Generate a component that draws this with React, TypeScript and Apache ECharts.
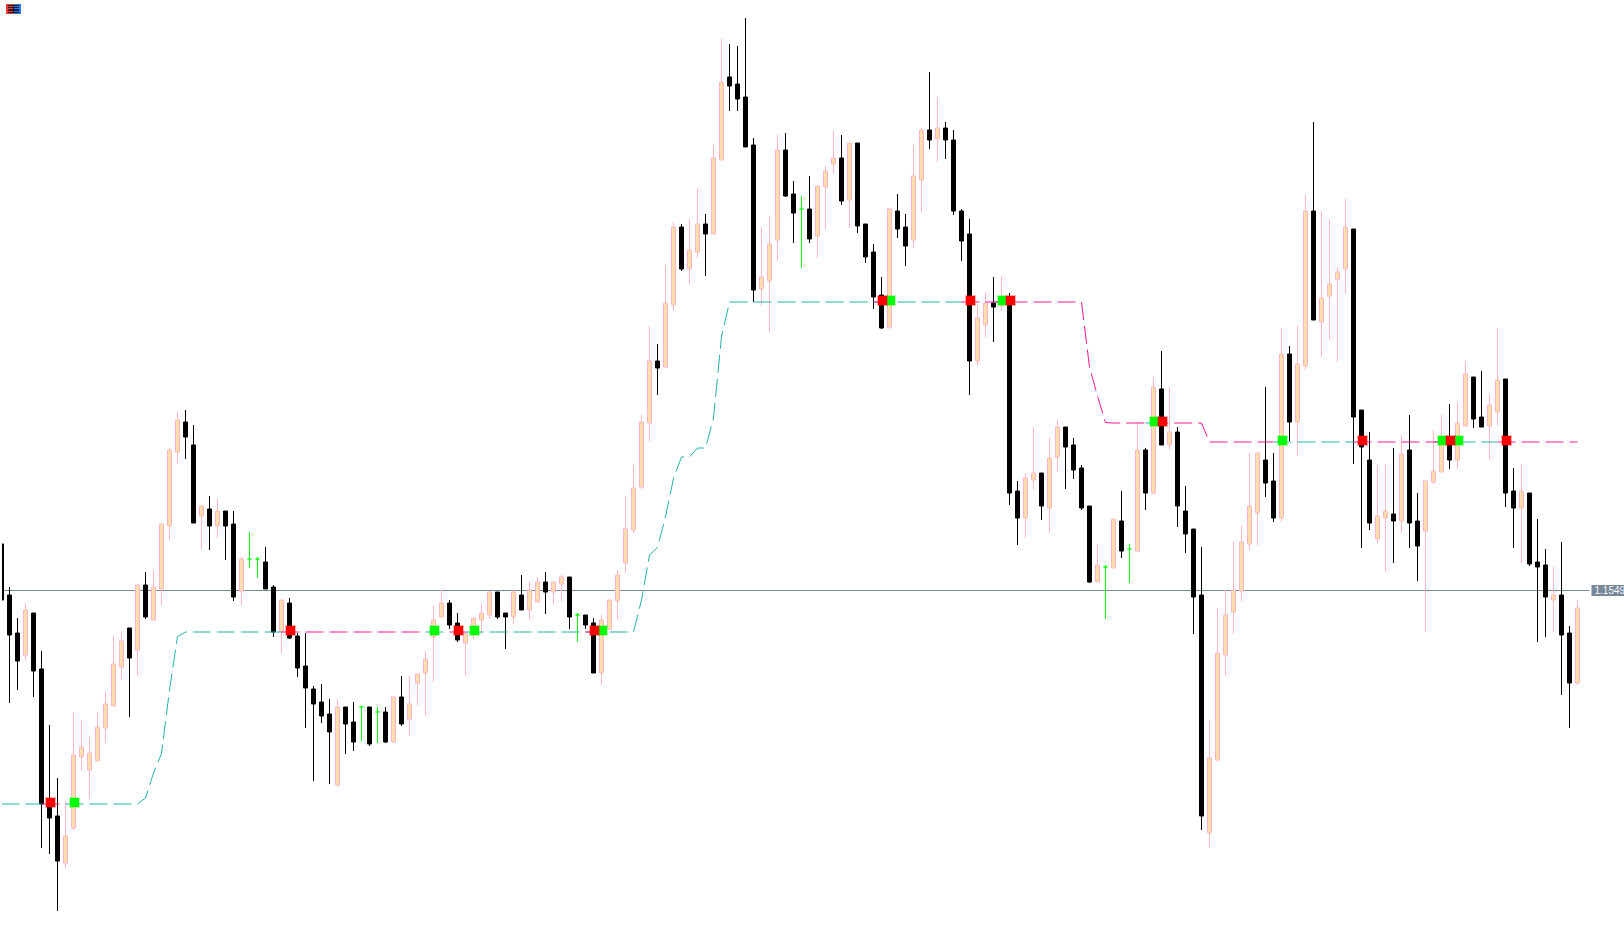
import React, { useEffect, useRef } from "react";
import * as echarts from "echarts";

const POINT = 0.00001;
const LAST_PRICE = 1.1549;
const LAST_LABEL = "1.1549";
const PRICE_MIN = 1.14777;
const PRICE_MAX = 1.16671;

// Prices in points (price x 100000), bar by bar.
const opens = [
115583,115481,115405,115361,115445,115333,115071,115039,114945,115015,
115157,115131,115149,115215,115259,115337,115415,115371,115501,115431,
115493,115619,115767,115827,115781,115639,115653,115619,115649,115623,
115489,115553,115553,115547,115497,115407,115465,115399,115339,115293,
115267,115243,115101,115257,115227,115257,115257,115247,115247,115187,
115277,115233,115305,115325,115397,115437,115465,115425,115385,115401,
115431,115441,115487,115445,115437,115481,115451,115467,115507,115487,
115503,115517,115441,115441,115425,115325,115413,115469,115545,115611,
115697,115825,115949,115937,116061,116217,116133,116167,116223,116203,
116351,116517,116503,116477,116381,116093,116109,116191,116371,116283,
116253,116253,116199,116297,116343,116355,116271,116385,116223,116167,
116081,116017,116249,116217,116191,116311,116411,116393,116415,116391,
116249,116203,115949,116021,116065,116059,116065,115689,115635,115711,
115725,115655,115757,115817,115781,115735,115659,115507,115537,115535,
115629,115573,115569,115771,115685,115893,115781,115807,115649,115613,
115481,115005,115151,115361,115447,115489,115583,115645,115751,115709,
115635,115963,115827,115939,116249,116027,116079,116113,116133,116213,
115851,115751,115593,115635,115643,115629,115771,115629,115609,115707,
115727,115791,115751,115819,115917,115837,115819,115847,115913,115689,
115655,115685,115547,115541,115471,115481,115405,115305,
];
const closes = [
115471,115401,115349,115451,115329,115063,115035,114949,114999,115161,
115177,115165,115217,115263,115343,115389,115355,115501,115437,115497,
115623,115771,115831,115797,115625,115659,115619,115649,115619,115477,
115553,115553,115553,115493,115407,115471,115395,115335,115295,115263,
115239,115207,115257,115223,115187,115257,115183,115247,115187,115277,
115223,115263,115323,115353,115431,115465,115421,115391,115405,115435,
115445,115487,115437,115437,115487,115451,115491,115507,115487,115507,
115517,115437,115441,115421,115325,115431,115471,115521,115613,115695,
115827,115949,115935,116065,116217,116133,116171,116223,116203,116355,
116507,116499,116473,116377,116091,116117,116183,116371,116279,116245,
116253,116193,116299,116329,116355,116269,116385,116219,116157,116077,
116015,116253,116213,116179,116319,116411,116391,116415,116391,116249,
116189,115949,116035,116065,116057,116071,115685,115635,115715,115725,
115659,115755,115817,115777,115731,115655,115507,115541,115537,115633,
115569,115573,115771,115685,115897,115781,115807,115659,115603,115477,
115039,115155,115365,115441,115491,115587,115659,115765,115705,115635,
115963,115827,115943,116249,116031,116075,116103,116127,116217,115837,
115777,115625,115639,115649,115629,115763,115625,115579,115709,115729,
115791,115751,115825,115923,115833,115817,115861,115911,115685,115655,
115689,115543,115537,115477,115481,115401,115305,115455,
];
const highs = [
115583,115497,115435,115465,115445,115369,115221,115115,115069,115247,
115231,115197,115247,115287,115399,115409,115415,115501,115527,115531,
115623,115775,115847,115851,115821,115659,115679,115675,115649,115649,
115557,115607,115557,115577,115501,115471,115475,115405,115405,115299,
115303,115273,115273,115257,115267,115257,115257,115257,115257,115277,
115319,115319,115323,115369,115461,115491,115471,115445,115405,115435,
115465,115487,115487,115445,115491,115521,115507,115517,115527,115507,
115521,115517,115445,115441,115435,115441,115471,115531,115679,115741,
115841,116019,115983,116141,116227,116223,116233,116293,116243,116381,
116593,116583,116579,116635,116395,116217,116239,116401,116405,116309,
116279,116319,116299,116339,116411,116401,116385,116385,116223,116183,
116117,116253,116283,116243,116381,116415,116527,116477,116427,116411,
116253,116233,116061,116085,116117,116117,116085,115709,115725,115817,
115725,115795,115831,115817,115795,115741,115659,115583,115541,115633,
115689,115583,115827,115775,115917,115969,115897,115817,115699,115613,
115577,115231,115455,115491,115587,115619,115765,115765,115897,115765,
116015,115979,116019,116283,116427,116249,116233,116137,116273,116213,
115851,115807,115741,115743,115775,115801,115841,115685,115709,115811,
115841,115863,115867,115949,115917,115929,115883,116015,115913,115735,
115743,115685,115633,115573,115537,115587,115419,115471,
];
const lows = [
115471,115265,115291,115351,115277,114975,114963,114849,114935,115011,
115131,115073,115149,115185,115259,115311,115237,115321,115433,115431,
115459,115591,115743,115753,115625,115571,115571,115595,115551,115469,
115459,115535,115515,115493,115397,115363,115393,115317,115215,115109,
115225,115103,115097,115163,115169,115189,115179,115185,115185,115185,
115219,115199,115261,115241,115307,115437,115413,115387,115321,115393,
115403,115433,115433,115373,115423,115451,115433,115467,115443,115463,
115469,115413,115387,115413,115325,115301,115411,115433,115525,115605,
115693,115789,115881,115937,116049,116129,116103,116155,116119,116203,
116351,116449,116449,116377,116067,116059,116007,116149,116277,116185,
116135,116185,116155,116211,116323,116261,116215,116205,116145,116053,
116013,116013,116195,116139,116175,116247,116373,116347,116353,116241,
116149,115881,115941,115997,115987,116049,115661,115581,115595,115693,
115631,115605,115727,115693,115713,115651,115505,115507,115433,115535,
115555,115505,115569,115651,115683,115781,115773,115617,115565,115403,
115011,114975,115149,115321,115403,115469,115571,115581,115677,115627,
115627,115789,115759,115931,116031,115957,115993,115947,116083,115743,
115575,115611,115585,115529,115545,115605,115575,115509,115407,115703,
115727,115733,115733,115819,115815,115817,115753,115821,115657,115575,
115545,115539,115387,115397,115407,115281,115215,115301,
];

// The stepped trend line, bar by bar.
const trendLevels = [
115063,115063,115063,115063,115063,115063,115063,115063,115063,115063,
115063,115063,115063,115063,115063,115063,115063,115063,115075,115125,
115164,115291,115398,115407,115407,115407,115407,115407,115407,115407,
115407,115407,115407,115407,115407,115407,115407,115407,115407,115407,
115407,115407,115407,115407,115407,115407,115407,115407,115407,115407,
115407,115407,115407,115407,115407,115407,115407,115407,115407,115407,
115407,115407,115407,115407,115407,115407,115407,115407,115407,115407,
115407,115407,115407,115407,115407,115407,115407,115407,115407,115407,
115471,115561,115576,115638,115714,115757,115757,115775,115775,115835,
115998,116067,116067,116067,116067,116067,116067,116067,116067,116067,
116067,116067,116067,116067,116067,116067,116067,116067,116067,116067,
116067,116067,116067,116067,116067,116067,116067,116067,116067,116067,
116067,116067,116067,116067,116067,116067,116067,116067,116067,116067,
116067,116067,116067,116067,116067,116067,115937,115879,115826,115825,
115825,115825,115825,115825,115825,115825,115825,115825,115825,115825,
115825,115787,115787,115787,115787,115787,115787,115787,115787,115787,
115787,115787,115787,115787,115787,115787,115787,115787,115787,115787,
115787,115787,115787,115787,115787,115787,115787,115787,115787,115787,
115787,115787,115787,115787,115787,115787,115787,115787,115787,115787,
115787,115787,115787,115787,115787,115787,115787,115787,
];

const sellSignals = [6, 36, 57, 74, 110, 121, 126, 145, 170, 181, 188];
const buySignals = [9, 54, 59, 75, 111, 125, 144, 160, 180, 182];

const BAR_COUNT = opens.length;
const categories = Array.from({ length: BAR_COUNT + 1 }, (_, i) => String(i));

const TEAL = "#20B2AA";
const PINK = "#FF1493";
const BULL_FILL = "#FFDEAD";
const BULL_EDGE = "#FFB6C1";
const BEAR = "#000000";
const DOJI = "#00FF00";
const PRICE_LINE = "#778899";

// The chart div starts this far left of the page, so the first bar can run off the edge.
const PAGE_SHIFT = 3;

const price = (p: number) => p * POINT;

function trendSeries() {
  const events = [
    ...sellSignals.map((i) => ({ i, color: PINK })),
    ...buySignals.map((i) => ({ i, color: TEAL })),
  ].sort((a, b) => a.i - b.i);
  const raw: { from: number; to: number; color: string }[] = [];
  let from = 0;
  let color = TEAL;
  for (const e of events) {
    raw.push({ from, to: e.i - 1, color });
    from = e.i - 1;
    color = e.color;
  }
  raw.push({ from, to: BAR_COUNT - 1, color });

  // A flip that lasts a single bar does not interrupt the other colour's line.
  const runs: typeof raw = [];
  for (const c of [TEAL, PINK]) {
    let current: (typeof raw)[number] | null = null;
    for (const r of raw.filter((x) => x.color === c)) {
      if (current && r.from - current.to <= 1) {
        current.to = r.to;
      } else {
        current = { ...r };
        runs.push(current);
      }
    }
  }
  return runs.map((r) => ({
    type: "line",
    z: 3,
    silent: true,
    showSymbol: false,
    symbol: "none",
    data: trendLevels
      .map((v, i) => [i, price(v)])
      .slice(r.from, r.to + 1),
    lineStyle: { width: 1, type: [18, 6], color: r.color, cap: "butt" },
  }));
}

function signalSeries(list: number[], color: string, halo: string, z: number) {
  return {
    type: "scatter",
    z,
    silent: true,
    symbol: "rect",
    symbolSize: 9,
    symbolOffset: [1, -1.5],
    itemStyle: { color, opacity: 1, borderColor: halo, borderWidth: 2 },
    data: list.map((i) => [i, price(trendLevels[i])]),
  };
}

const rectAt = (x: number, y: number, width: number, height: number, fill: string, z: number) => ({
  type: "rect",
  z,
  shape: { x: x + PAGE_SHIFT, y, width, height },
  style: { fill },
});

export default function App() {
  const ref = useRef<HTMLDivElement>(null);
  useEffect(() => {
    if (!ref.current) return;
    const chart = echarts.init(ref.current, undefined, { renderer: "svg" });
    chart.setOption({
      animation: false,
      backgroundColor: "#FFFFFF",
      grid: { left: 0.5, top: 0, width: 8 * categories.length, height: 947, containLabel: false },
      xAxis: { type: "category", data: categories, show: false, boundaryGap: true },
      yAxis: { type: "value", show: false, min: PRICE_MIN, max: PRICE_MAX, scale: true },
      series: [
        {
          type: "line",
          z: 1,
          silent: true,
          showSymbol: false,
          symbol: "none",
          lineStyle: { width: 0 },
          data: [[BAR_COUNT, LAST_PRICE]],
          markLine: {
            z: 1,
            silent: true,
            symbol: "none",
            animation: false,
            precision: 5,
            lineStyle: { color: PRICE_LINE, width: 1, type: "solid" },
            label: {
              show: true,
              position: "end",
              distance: 2,
              formatter: LAST_LABEL,
              color: "#F4F6F8",
              backgroundColor: PRICE_LINE,
              fontFamily: "Liberation Sans",
              fontSize: 10,
              lineHeight: 11,
              padding: [0, 2, 0, 3],
            },
            data: [{ yAxis: LAST_PRICE }],
          },
        },
        {
          type: "candlestick",
          z: 2,
          silent: true,
          barWidth: 4,
          itemStyle: {
            color: BULL_FILL,
            borderColor: BULL_EDGE,
            color0: BEAR,
            borderColor0: BEAR,
            borderColorDoji: DOJI,
            borderWidth: 1,
          },
          data: opens.map((o, i) => [price(o), price(closes[i]), price(lows[i]), price(highs[i])]),
        },
        ...trendSeries(),
        signalSeries(buySignals, DOJI, "rgba(0,255,0,0.3)", 4),
        signalSeries(sellSignals, "#FF0000", "rgba(255,0,0,0.3)", 5),
      ],
      graphic: [
        rectAt(0, 0, 2, 947, "#FFFFFF", 50),
        rectAt(6, 4, 8, 10, "#F03A32", 60),
        rectAt(14, 4, 7, 10, "#2A78F0", 60),
        rectAt(8, 5, 11, 8, "#16202C", 61),
        rectAt(8, 6, 5, 1, "#F03A32", 62),
        rectAt(8, 8, 5, 1, "#F03A32", 62),
        rectAt(8, 11, 5, 1, "#F03A32", 62),
        rectAt(14, 6, 5, 1, "#2A78F0", 62),
        rectAt(14, 8, 5, 1, "#2A78F0", 62),
        rectAt(14, 11, 5, 1, "#2A78F0", 62),
      ],
    });
    return () => chart.dispose();
  }, []);
  return (
    <div
      ref={ref}
      style={{ position: "fixed", left: -PAGE_SHIFT, top: 0, width: 1624 + PAGE_SHIFT, height: 947 }}
    />
  );
}
